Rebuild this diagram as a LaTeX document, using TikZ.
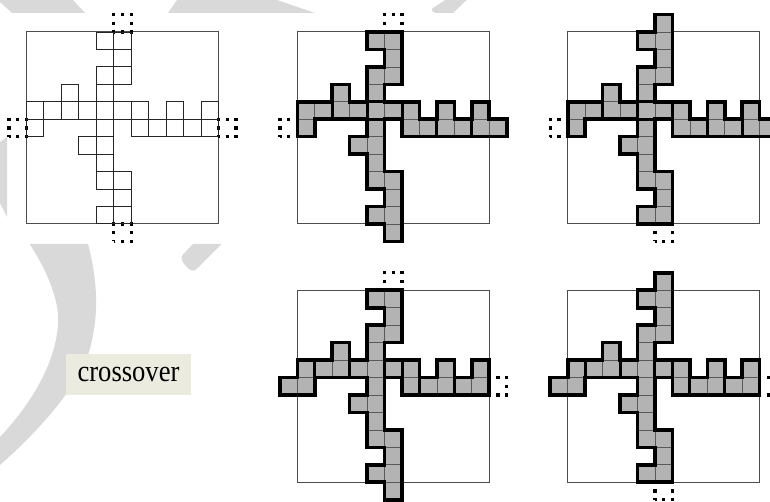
\documentclass[tikz,border=0pt]{standalone}
\usepackage{fontspec}
\usepackage{graphicx}
\setmainfont{Liberation Serif}
\definecolor{wm}{HTML}{D9D9D9}
\definecolor{cellgray}{HTML}{B3B3B3}
\definecolor{labelbg}{HTML}{ECEBE0}
\tikzset{
  wmark/.style={fill=wm,draw=none},
  frameline/.style={draw=black!70,line width=1pt},
  thincell/.style={draw=black!85,line width=0.95pt},
  shapefill/.style={fill=cellgray,draw=none},
  cellgrid/.style={draw=black!65,line width=0.7pt},
  outline/.style={draw=black,line width=3.6pt,line join=miter},
  innerbold/.style={draw=black,line width=3pt},
  dotrect/.style={draw=black,line width=3.3pt,dash pattern=on 3.3pt off 5.425pt,dash phase=1.65pt},
  panel/.style={x=17.45pt,y=-17.45pt},
}
\newcommand{\basecells}{4/0,5/0,5/1,4/2,5/2,4/3,2/3,0/4,1/4,2/4,3/4,4/4,5/4,6/4,8/4,10/4,0/5,4/5,6/5,7/5,8/5,9/5,10/5,3/6,4/6,4/7,4/8,5/8,5/9,4/10,5/10}
\newcommand{\cellsquares}[2]{%
  \foreach \c/\r in \basecells {\draw[#2] (\c,\r) rectangle ++(1,1);}
  \foreach \c/\r in {#1} {\draw[#2] (\c,\r) rectangle ++(1,1);}
}
\newcommand{\dotcell}[2]{\draw[dotrect] (#1,#2+1) rectangle ++(1,-1);}
% #1 top piece, #2 right piece, #3 bottom piece, #4 left piece, #5 extra cells
\newcommand{\polyomino}[5]{%
  \path[shapefill] (4,0) #1 -- (6,3) -- (5,3) -- (5,4) -- (7,4) -- (7,5) -- (8,5) -- (8,4) -- (9,4) -- (9,5) -- (10,5) -- (10,4) -- (11,4) #2 -- (6,6) -- (6,5) -- (5,5) -- (5,8) -- (6,8) #3 -- (4,10) -- (5,10) -- (5,9) -- (4,9) -- (4,7) -- (3,7) -- (3,6) -- (4,6) -- (4,5) -- (1,5) #4 -- (2,4) -- (2,3) -- (3,3) -- (3,4) -- (4,4) -- (4,2) -- (5,2) -- (5,1) -- (4,1) -- cycle;
  \cellsquares{#5}{cellgrid}
  \draw[outline] (4,0) #1 -- (6,3) -- (5,3) -- (5,4) -- (7,4) -- (7,5) -- (8,5) -- (8,4) -- (9,4) -- (9,5) -- (10,5) -- (10,4) -- (11,4) #2 -- (6,6) -- (6,5) -- (5,5) -- (5,8) -- (6,8) #3 -- (4,10) -- (5,10) -- (5,9) -- (4,9) -- (4,7) -- (3,7) -- (3,6) -- (4,6) -- (4,5) -- (1,5) #4 -- (2,4) -- (2,3) -- (3,3) -- (3,4) -- (4,4) -- (4,2) -- (5,2) -- (5,1) -- (4,1) -- cycle;
}
\newcommand{\crossA}{%
  \draw[innerbold] (2,4)--(2,5) (4,4)--(4,5) (6,4)--(6,5) (4,4)--(5,4) (4,5)--(5,5) (8,5)--(8,6) (10,5)--(10,6);
}
\newcommand{\crossB}{%
  \draw[innerbold] (1,4)--(1,5) (3,4)--(3,5) (5,4)--(5,5) (6,4)--(6,5) (7,5)--(7,6) (9,5)--(9,6);
}
\newcommand{\topno}{-- (6,0)}
\newcommand{\topyes}{-- (5,0) -- (5,-1) -- (6,-1) -- (6,0)}
\newcommand{\rightno}{-- (11,6)}
\newcommand{\rightyes}{-- (11,5) -- (12,5) -- (12,6)}
\newcommand{\botno}{-- (6,11) -- (4,11)}
\newcommand{\botyes}{-- (6,12) -- (5,12) -- (5,11) -- (4,11)}
\newcommand{\leftno}{-- (1,6) -- (0,6) -- (0,4)}
\newcommand{\leftyes}{-- (1,6) -- (-1,6) -- (-1,5) -- (0,5) -- (0,4)}
\begin{document}
\begin{tikzpicture}[x=1pt,y=-1pt]
\useasboundingbox (0,0) rectangle (770,502);
\clip (0,0) rectangle (770,502);
% watermark pieces
\fill[wmark] (0,2) -- (12,13) -- (85,13) -- (73,0) -- (0,0) -- cycle;
\fill[wmark] (168,13) -- (177,0) -- (277,0) -- (315,13) -- cycle;
\fill[wmark] (445,0) -- (466.6,0) -- (453,13) -- (436,13) .. controls (433,13) and (431.7,11) .. (431.7,9) -- cycle;
\fill[wmark] (0,142) -- (7,137) -- (7,217) -- (0,203) -- cycle;
\fill[wmark] (29.6,244) .. controls (50,275) and (60,305) .. (58,325) .. controls (55,365) and (30,405) .. (0,437) -- (0,465) .. controls (40,430) and (85,380) .. (92,340) .. controls (100,305) and (95,270) .. (88,244) -- cycle;
\fill[wmark] (193,244) -- (182.5,255) .. controls (180.5,258) and (182,262) .. (186,266) .. controls (189,270) and (193,272) .. (196,269.5) -- (221.7,244) -- cycle;
% panel 1
\begin{scope}[shift={(26.5,32)},panel]
  \draw[frameline] (0,0) rectangle (11,11);
  \dotcell{5}{-1}\dotcell{5}{11}\dotcell{-1}{5}\dotcell{11}{5}
  \cellsquares{}{thincell}
\end{scope}
% panel 2
\begin{scope}[shift={(297.3,32)},panel]
  \draw[frameline] (0,0) rectangle (11,11);
  \dotcell{5}{-1}\dotcell{-1}{5}
  \polyomino{\topno}{\rightyes}{\botyes}{\leftno}{11/5,5/11}
  \crossA
\end{scope}
% panel 3
\begin{scope}[shift={(567.7,32)},panel]
  \draw[frameline] (0,0) rectangle (11,11);
  \dotcell{5}{11}\dotcell{-1}{5}
  \polyomino{\topyes}{\rightyes}{\botno}{\leftno}{5/-1,11/5}
  \crossA
\end{scope}
% panel 4
\begin{scope}[shift={(297.3,290.3)},panel]
  \draw[frameline] (0,0) rectangle (11,11);
  \dotcell{5}{-1}\dotcell{11}{5}
  \polyomino{\topno}{\rightno}{\botyes}{\leftyes}{-1/5,5/11}
  \crossB
\end{scope}
% panel 5
\begin{scope}[shift={(567.7,290.3)},panel]
  \draw[frameline] (0,0) rectangle (11,11);
  \dotcell{5}{11}\dotcell{11}{5}
  \polyomino{\topyes}{\rightno}{\botno}{\leftyes}{5/-1,-1/5}
  \crossB
\end{scope}
\node[fill=labelbg,minimum width=125pt,minimum height=40.7pt,inner sep=0pt,font=\fontsize{26.6}{30}\selectfont] (label) at (128.5,374.5) {\raisebox{-2.4pt}{\scalebox{1}[1.14]{crossover}}};
\end{tikzpicture}
\end{document}
